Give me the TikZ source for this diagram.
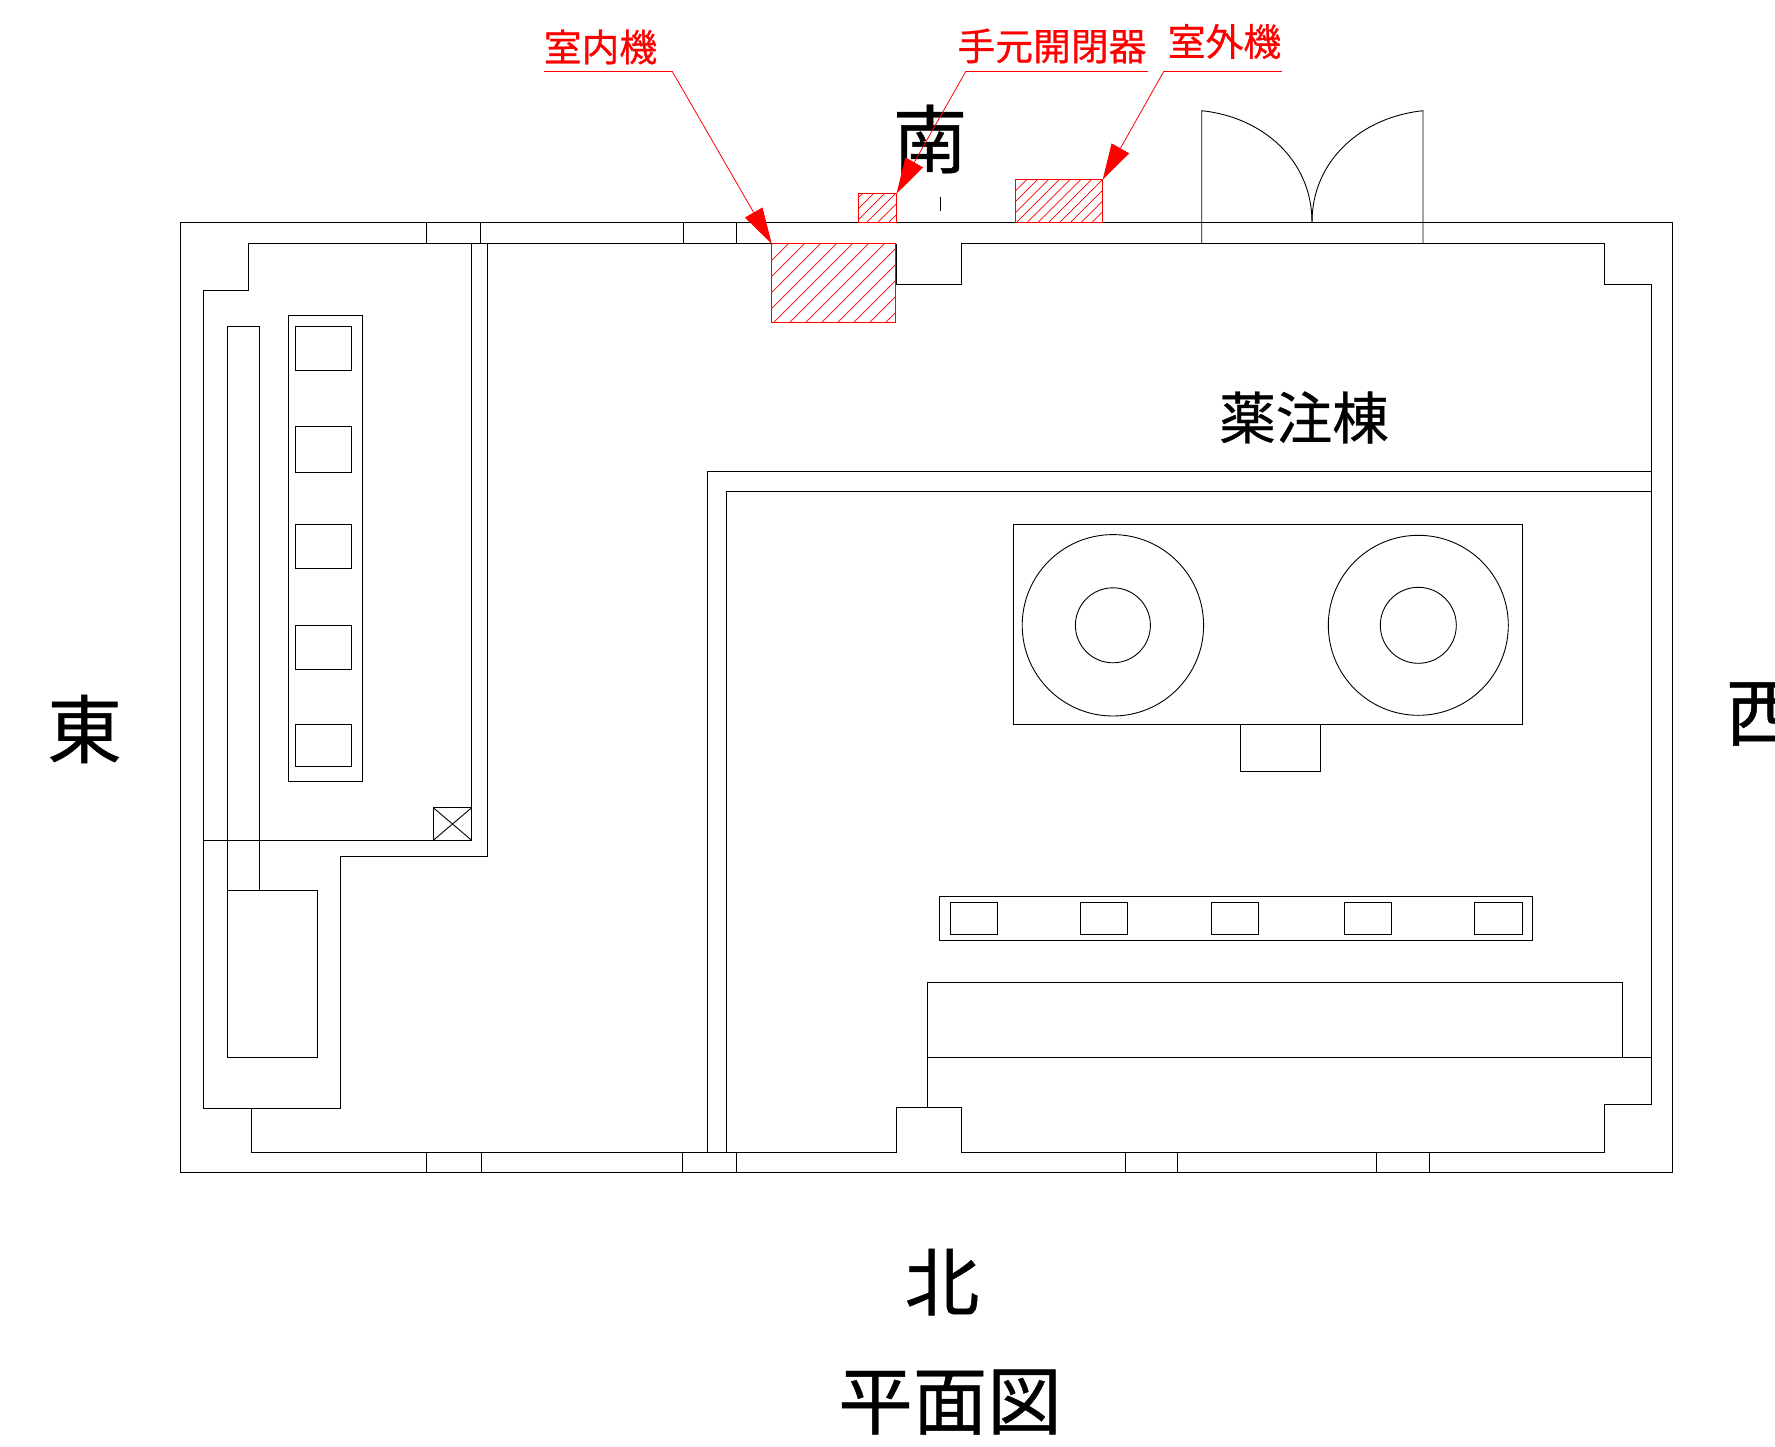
\documentclass[tikz,border=0pt]{standalone}
\usepackage{fontspec}
\usetikzlibrary{arrows.meta}
\setmainfont[FakeBold=0.6]{Noto Sans CJK JP}
\tikzset{
  wall/.style={draw=black,line width=0.9pt,line join=miter},
  leader/.style={draw=red,line width=0.8pt},
  leadarrow/.style={leader,-{Triangle[length=36pt,width=20pt]}},
  hatchbox/.style={draw=red,line width=1pt},
  hatchline/.style={draw=red,line width=0.7pt},
  big/.style={inner sep=0pt,font=\fontsize{74.5}{74.5}\selectfont},
  mid/.style={inner sep=0pt,font=\fontsize{56.5}{56.5}\selectfont},
  redlabel/.style={inner sep=0pt,text=red,font=\fontsize{37.8}{37.8}\selectfont}
}
\newcommand{\hatchrect}[6]{% x1 y1 x2 y2 first(x+y) spacing
  \begin{scope}
    \clip (#1,#2) rectangle (#3,#4);
    \foreach \k in {-20,...,20}{
      \pgfmathsetmacro{\cc}{#5+\k*#6}
      \draw[hatchline] ({\cc-#2},#2) -- ({\cc-#4},#4);
    }
  \end{scope}
  \draw[hatchbox] (#1,#2) rectangle (#3,#4);
}
\begin{document}
\begin{tikzpicture}[x=1pt,y=-1pt]
\useasboundingbox (0,0) rectangle (1775,1446);

% building outline
\draw[wall] (180.5,222.3) rectangle (1672,1172.7);
% inner wall, left wing
\draw[wall] (896,243.7) -- (248,243.7) -- (248,290) -- (203.5,290) -- (203.5,1108) -- (340,1108) -- (340,856.3) -- (487,856.3) -- (487,243.7);
\draw[wall] (471.7,243.7) -- (471.7,840.3) -- (203.5,840.3);
% inner wall, right side
\draw[wall] (896,243.7) -- (896,284.3) -- (961.7,284.3) -- (961.7,243.7) -- (1604.7,243.7) -- (1604.7,284) -- (1651.7,284) -- (1651.7,1104) -- (1604.7,1104) -- (1604.7,1152) -- (961.7,1152) -- (961.7,1107.7) -- (896,1107.7) -- (896,1152) -- (251.7,1152) -- (251.7,1108);
% corridor
\draw[wall] (1651.7,471.7) -- (707.7,471.7) -- (707.7,1152);
\draw[wall] (1651.7,491) -- (726.5,491) -- (726.5,1152);
% window marks
\foreach \xx in {426.7,480,683,736}{\draw[wall] (\xx,222.3) -- (\xx,243.7);}
\foreach \xx in {426.7,481,682.3,736,1125.3,1177.3,1376.7,1429.3}{\draw[wall] (\xx,1152) -- (\xx,1172.7);}
% double door
\draw[wall] (1201.7,243.7) -- (1201.7,110.7) .. controls (1262.5,117) and (1312,160) .. (1312,222.3);
\draw[wall] (1423,243.7) -- (1423,110.7) .. controls (1362,117) and (1312,160) .. (1312,222.3);
% tick
\draw[wall] (940,196.7) -- (940,210.7);

% left equipment
\draw[wall] (227.7,326.7) rectangle (259.3,890.7);
\draw[wall] (227.7,890.7) rectangle (317,1057.3);
\draw[wall] (288,315) rectangle (362.7,781.7);
\draw[wall] (295.3,326.5) rectangle (351.7,370.7);
\draw[wall] (295.3,426.3) rectangle (351.7,472);
\draw[wall] (295.3,524.3) rectangle (351.7,568.3);
\draw[wall] (295.3,625.3) rectangle (351.7,669.7);
\draw[wall] (295.3,724) rectangle (351.7,766.7);
\draw[wall] (433.3,807.7) rectangle (471.7,840.3);
\draw[wall] (433.3,807.7) -- (471.7,840.3);
\draw[wall] (433.3,840.3) -- (471.7,807.7);

% tanks
\draw[wall] (1013,524.3) rectangle (1522.3,724);
\draw[wall] (1112.9,625.3) circle[radius=90.7];
\draw[wall] (1112.9,625.3) circle[radius=37.5];
\draw[wall] (1418.3,625.3) circle[radius=90];
\draw[wall] (1418.3,625.3) circle[radius=38];
\draw[wall] (1240.5,724) rectangle (1320,771.3);

% lower equipment
\draw[wall] (939.3,896.3) rectangle (1532.7,940.3);
\foreach \xa/\xb in {950.3/997.7,1080.3/1127.7,1211.3/1258.3,1344.3/1391.3,1474.3/1522.3}{
  \draw[wall] (\xa,902.3) rectangle (\xb,934.3);
}
\draw[wall] (927.3,1107.7) -- (927.3,982.7) -- (1622,982.7) -- (1622,1057.3);
\draw[wall] (927.3,1057.3) -- (1651.7,1057.3);

% hatched units
\hatchrect{771.7}{243.7}{895.7}{322}{1032}{16}
\hatchrect{858.3}{193.7}{896.7}{222.3}{1067}{11}
\hatchrect{1015.7}{179.7}{1102.7}{222.3}{1206.4}{10.8}

% labels
\node[big] (south) at (930,139) {南};
\node[big] (east) at (84.5,729) {東};
\node[big] (west) at (1763,714) {西};
\node[big] (north) at (942,1282) {北};
\node[big] (title) at (950,1402) {平面図};
\node[mid] (bldg) at (1304,417.5) {薬注棟};
\node[redlabel] (indoor) at (600.5,47) {室内機};
\node[redlabel] (switch) at (1052,46) {手元開閉器};
\node[redlabel] (outdoor) at (1224.5,41.5) {室外機};

% leaders
\coordinate (iA) at (544,71); \coordinate (iB) at (672,71); \coordinate (iT) at (771.7,243.7);
\coordinate (sA) at (1148,71); \coordinate (sB) at (966,71); \coordinate (sT) at (896.5,193.7);
\coordinate (oA) at (1282,71); \coordinate (oB) at (1164,71); \coordinate (oT) at (1102.7,179.7);
\draw[leader] (iA) -- (iB);
\draw[leadarrow] (iB) -- (iT);
\draw[leader] (sA) -- (sB);
\draw[leadarrow] (sB) -- (sT);
\draw[leader] (oA) -- (oB);
\draw[leadarrow] (oB) -- (oT);
\end{tikzpicture}
\end{document}
